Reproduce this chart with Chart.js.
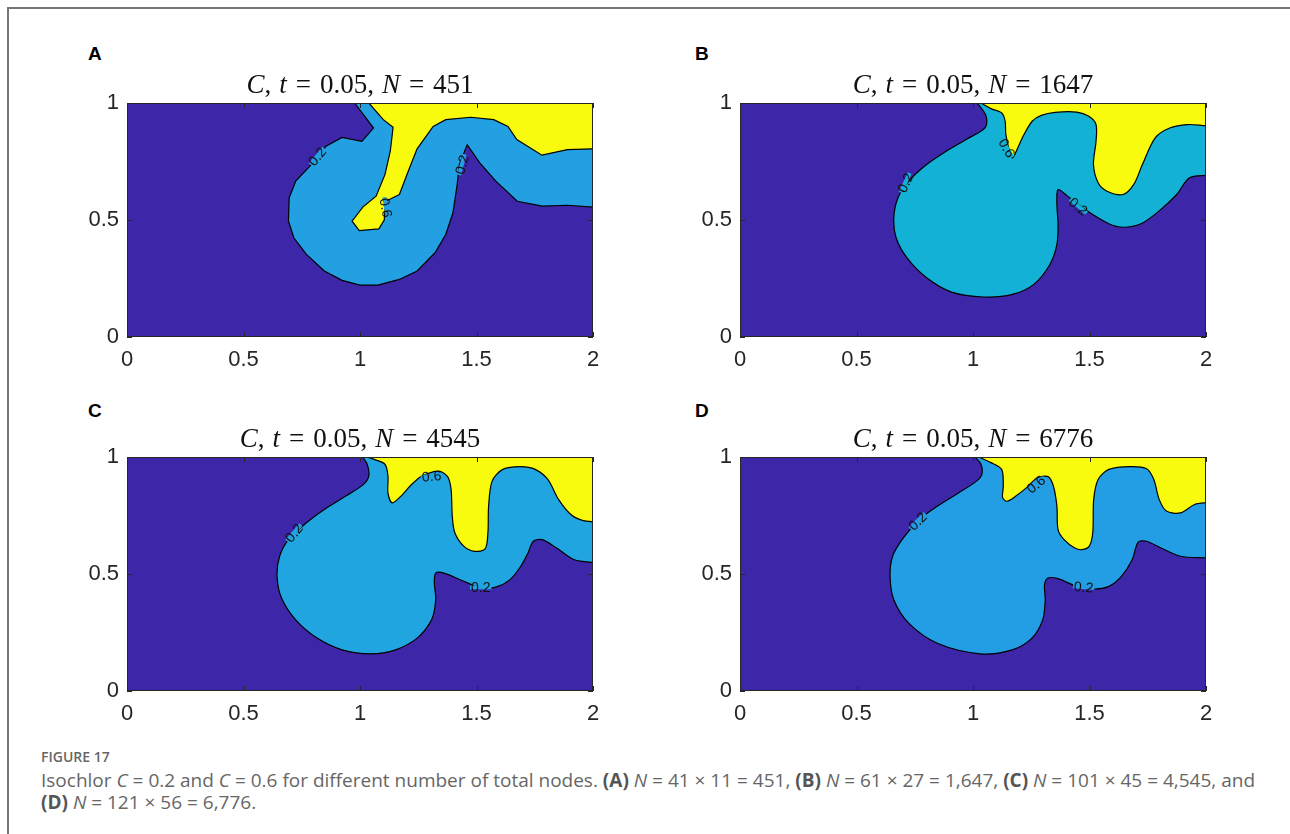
<!DOCTYPE html>
<html>
<head>
<meta charset="utf-8">
<script src="https://cdn.jsdelivr.net/npm/chart.js@4.4.0/dist/chart.umd.min.js"></script>
<style>
body{margin:0;background:#fff;width:1290px;height:834px;position:relative;overflow:hidden}
#frame{position:absolute;left:7px;top:7px;width:1300px;height:840px;border-left:2px solid #777;border-top:2px solid #777}
canvas{position:absolute}
.letter{position:absolute;font:bold 19px "Liberation Sans";line-height:19px;color:#000}
#caphead{position:absolute;left:41px;top:749px;font:600 14px "Open Sans";line-height:16px;color:#666}
#caption{position:absolute;left:41px;top:769px;font:19px "Open Sans";line-height:22px;color:#666;white-space:nowrap}
#caption b{color:#555}
</style>
</head>
<body>
<div id="frame"></div>
<div class="letter" style="left:88px;top:44px">A</div>
<div class="letter" style="left:695px;top:44px">B</div>
<div class="letter" style="left:88px;top:401px">C</div>
<div class="letter" style="left:695px;top:401px">D</div>
<canvas id="cA" width="560" height="345" style="left:60px;top:40px"></canvas>
<canvas id="cB" width="560" height="345" style="left:673px;top:40px"></canvas>
<canvas id="cC" width="560" height="345" style="left:60px;top:394px"></canvas>
<canvas id="cD" width="560" height="345" style="left:673px;top:394px"></canvas>
<div id="caphead">FIGURE 17</div>
<div id="caption">Isochlor <i>C</i> = 0.2 and <i>C</i> = 0.6 for different number of total nodes. <b>(A)</b> <i>N</i> = 41 × 11 = 451, <b>(B)</b> <i>N</i> = 61 × 27 = 1,647, <b>(C)</b> <i>N</i> = 101 × 45 = 4,545, and<br><b>(D)</b> <i>N</i> = 121 × 56 = 6,776.</div>
<script>
// axes
var xTicks = [0, 0.5, 1, 1.5, 2];
var yTicks = [0, 0.5, 1];
var nodes = [451, 1647, 4545, 6776];

// (A) N = 451 : isochlor C = 0.2 and C = 0.6
var a02x = [0.977,1.058,1.008,0.923,0.854,0.785,0.724,0.696,0.693,0.716,0.770,0.847,0.923,1.0,1.077,1.169,1.245,1.322,1.368,1.399,1.417,1.426,1.460,1.514,1.583,1.675,1.782,1.890,2.0];
var a02y = [1,0.893,0.836,0.853,0.815,0.730,0.666,0.595,0.495,0.424,0.353,0.282,0.242,0.222,0.222,0.246,0.282,0.360,0.438,0.531,0.651,0.737,0.822,0.744,0.666,0.580,0.559,0.563,0.555];
var a06x = [1.038,1.100,1.142,1.130,1.107,1.069,1.012,0.966,0.997,1.081,1.104,1.110,1.169,1.207,1.245,1.314,1.368,1.475,1.574,1.635,1.673,1.781,1.890,2.0];
var a06y = [1,0.929,0.896,0.794,0.694,0.602,0.555,0.495,0.455,0.462,0.500,0.580,0.609,0.708,0.804,0.900,0.929,0.939,0.929,0.900,0.844,0.777,0.801,0.804];

// (B) N = 1647
var b02x = [1.018,1.054,1.058,1.043,0.969,0.885,0.801,0.724,0.678,0.660,0.670,0.716,0.801,0.908,1.046,1.169,1.261,1.330,1.360,1.365,1.360,1.365,1.406,1.491,1.583,1.644,1.721,1.798,1.874,1.928,2.0];
var b02y = [1,0.950,0.908,0.886,0.843,0.794,0.737,0.666,0.595,0.509,0.424,0.339,0.253,0.192,0.171,0.182,0.225,0.310,0.395,0.481,0.566,0.630,0.602,0.538,0.484,0.469,0.484,0.538,0.609,0.680,0.691];
var b06x = [1.034,1.077,1.123,1.138,1.141,1.157,1.169,1.192,1.215,1.254,1.293,1.353,1.445,1.497,1.528,1.528,1.517,1.537,1.575,1.644,1.690,1.727,1.782,1.844,1.920,2.0];
var b06y = [1,0.976,0.958,0.922,0.865,0.794,0.765,0.808,0.858,0.922,0.947,0.960,0.961,0.943,0.908,0.836,0.737,0.659,0.623,0.609,0.652,0.737,0.851,0.893,0.908,0.903];

// (C) N = 4545
var c02x = [1.012,1.031,1.038,1.015,0.939,0.847,0.770,0.693,0.655,0.644,0.663,0.724,0.816,0.923,1.046,1.153,1.245,1.307,1.325,1.319,1.325,1.360,1.445,1.521,1.583,1.644,1.690,1.721,1.744,1.782,1.844,1.920,2.0];
var c02y = [1,0.969,0.919,0.883,0.833,0.776,0.719,0.647,0.576,0.490,0.397,0.304,0.226,0.176,0.159,0.176,0.226,0.304,0.390,0.461,0.504,0.504,0.469,0.440,0.444,0.476,0.533,0.590,0.640,0.647,0.611,0.561,0.550];
var c06x = [1.028,1.061,1.107,1.120,1.120,1.138,1.176,1.215,1.261,1.337,1.376,1.391,1.396,1.407,1.445,1.491,1.537,1.549,1.552,1.567,1.613,1.690,1.752,1.806,1.852,1.905,1.951,2.0];
var c06y = [1,0.990,0.969,0.919,0.847,0.804,0.833,0.876,0.916,0.940,0.916,0.861,0.747,0.676,0.619,0.597,0.607,0.676,0.790,0.897,0.947,0.959,0.947,0.904,0.819,0.754,0.730,0.723];

// (D) N = 6776
var d02x = [1.009,1.034,1.038,1.015,0.939,0.847,0.770,0.701,0.655,0.644,0.660,0.724,0.847,1.031,1.169,1.253,1.299,1.310,1.307,1.322,1.368,1.445,1.521,1.583,1.637,1.683,1.709,1.745,1.807,1.890,2.0];
var d02y = [1,0.969,0.926,0.897,0.847,0.790,0.733,0.654,0.576,0.490,0.390,0.290,0.204,0.159,0.176,0.226,0.304,0.390,0.454,0.483,0.479,0.447,0.436,0.447,0.490,0.561,0.636,0.640,0.611,0.576,0.569];
var d06x = [1.025,1.077,1.123,1.130,1.127,1.146,1.184,1.230,1.276,1.322,1.345,1.360,1.365,1.391,1.437,1.468,1.499,1.514,1.518,1.537,1.583,1.675,1.745,1.776,1.799,1.830,1.890,1.951,2.0];
var d06y = [1,0.976,0.947,0.876,0.826,0.811,0.833,0.869,0.911,0.916,0.876,0.790,0.690,0.647,0.611,0.604,0.619,0.676,0.819,0.904,0.947,0.959,0.950,0.904,0.819,0.769,0.761,0.797,0.804];

// contour label anchors (data units) and text
var aLabX = [0.816, 1.437, 1.112], aLabY = [0.772, 0.737, 0.552], aLabT = ['0.2', '0.2', '0.6'];
var bLabX = [0.709, 1.146, 1.452], bLabY = [0.659, 0.808, 0.559], bLabT = ['0.2', '0.6', '0.2'];
var cLabX = [0.716, 1.307, 1.518], cLabY = [0.676, 0.919, 0.443], cLabT = ['0.2', '0.6', '0.2'];
var dLabX = [0.762, 1.270, 1.475], dLabY = [0.726, 0.883, 0.444], dLabT = ['0.2', '0.6', '0.2'];
var aLabRot = [-50, -75, 80], bLabRot = [-65, 60, 40], cLabRot = [-50, -5, 0], dLabRot = [-45, -40, 5];

var PURPLE = '#3e26a8';
var YELLOW = '#f9fb0e';

function pts(xs, ys) {
	return xs.map(function (x, i) { return {x: x, y: ys[i]}; });
}

// close a contour that runs from the top edge to the right edge, going round the
// top-right corner just outside the axes (the part outside is clipped away)
function region(xs, ys) {
	var p = pts(xs, ys);
	var xm = xTicks[xTicks.length - 1] + 0.05, ym = yTicks[yTicks.length - 1] + 0.05;
	var first = p[0], last = p[p.length - 1];
	return p.concat([{x: xm, y: last.y}, {x: xm, y: ym}, {x: first.x, y: ym}]);
}

var bgPlugin = {
	id: 'bg',
	beforeDatasetsDraw: function (chart) {
		var sx = chart.scales.x, sy = chart.scales.y;
		var x0 = sx.getPixelForValue(xTicks[0]), x1 = sx.getPixelForValue(xTicks[xTicks.length - 1]);
		var y0 = sy.getPixelForValue(yTicks[0]), y1 = sy.getPixelForValue(yTicks[yTicks.length - 1]);
		chart.ctx.save();
		chart.ctx.fillStyle = PURPLE;
		chart.ctx.fillRect(x0, y1, x1 - x0, y0 - y1);
		chart.ctx.restore();
	}
};

var boxPlugin = {
	id: 'box',
	afterDraw: function (chart) {
		var ctx = chart.ctx, a = chart.chartArea;
		var sx = chart.scales.x, sy = chart.scales.y;
		ctx.save();
		ctx.strokeStyle = '#262626';
		ctx.lineWidth = 1;
		ctx.strokeRect(a.left + 0.5, a.top + 0.5, a.right - a.left - 1, a.bottom - a.top - 1);
		ctx.beginPath();
		xTicks.forEach(function (v) {
			var p = Math.round(sx.getPixelForValue(v)) + 0.5;
			ctx.moveTo(p, a.bottom); ctx.lineTo(p, a.bottom - 5);
			ctx.moveTo(p, a.top); ctx.lineTo(p, a.top + 5);
		});
		yTicks.forEach(function (v) {
			var p = Math.round(sy.getPixelForValue(v)) + 0.5;
			ctx.moveTo(a.left, p); ctx.lineTo(a.left + 5, p);
			ctx.moveTo(a.right, p); ctx.lineTo(a.right - 5, p);
		});
		ctx.stroke();
		ctx.restore();
	}
};

// title drawn as LaTeX-like text: italic symbols, upright numbers, numbers in parts are gaps
var mathTitle = {
	id: 'mathTitle',
	afterDraw: function (chart, args, opts) {
		var ctx = chart.ctx, a = chart.chartArea;
		var parts = [['C', 1], [',', 0], 8, ['t', 1], 9, ['=', 0], 9, ['0.05,', 0], 8, ['N', 1], 9, ['=', 0], 9, [String(opts.n), 0]];
		var fi = 'italic 27px "Liberation Serif"', fr = '27px "Liberation Serif"';
		ctx.save();
		ctx.fillStyle = '#111';
		ctx.textBaseline = 'alphabetic';
		ctx.textAlign = 'left';
		var total = 0;
		var ws = parts.map(function (p) {
			if (typeof p === 'number') { total += p; return p; }
			ctx.font = p[1] ? fi : fr;
			var w = ctx.measureText(p[0]).width;
			total += w;
			return w;
		});
		var x = (a.left + a.right) / 2 - total / 2;
		parts.forEach(function (p, i) {
			if (typeof p !== 'number') {
				ctx.font = p[1] ? fi : fr;
				ctx.fillText(p[0], x, a.top - 10);
			}
			x += ws[i];
		});
		ctx.restore();
	}
};

var labelPlugin = {
	id: 'clabels',
	afterDatasetsDraw: function (chart, args, opts) {
		var ctx = chart.ctx;
		var sx = chart.scales.x, sy = chart.scales.y;
		ctx.save();
		ctx.font = '14px "Liberation Sans"';
		ctx.textAlign = 'center';
		ctx.textBaseline = 'middle';
		opts.x.forEach(function (v, i) {
			var px = sx.getPixelForValue(v), py = sy.getPixelForValue(opts.y[i]);
			ctx.save();
			ctx.translate(px, py);
			ctx.rotate(opts.rot[i] * Math.PI / 180);
			var w = ctx.measureText(opts.t[i]).width;
			ctx.fillStyle = opts.bg;
			ctx.fillRect(-w / 2 - 1, -2, w + 2, 4);
			ctx.fillStyle = '#111';
			ctx.fillText(opts.t[i], 0, 1);
			ctx.restore();
		});
		ctx.restore();
	}
};

function makePanel(id, n, x02, y02, x06, y06, blue, smooth, lx, ly, lt, lr) {
	var tickFont = {family: 'Liberation Sans', size: 22};
	var fmt = function (v) { return String(v); };
	new Chart(document.getElementById(id), {
		type: 'scatter',
		data: {
			datasets: [
				{label: 'C = 0.2', data: region(x02, y02), showLine: true, fill: 'shape', backgroundColor: blue, borderColor: '#000', borderWidth: 1.2, pointRadius: 0, tension: smooth, clip: 0, order: 2},
				{label: 'C = 0.6', data: region(x06, y06), showLine: true, fill: 'shape', backgroundColor: YELLOW, borderColor: '#000', borderWidth: 1.2, pointRadius: 0, tension: smooth, clip: 0, order: 1}
			]
		},
		options: {
			responsive: false,
			animation: false,
			events: [],
			layout: {padding: {top: 63, right: 27, left: 0, bottom: 15}},
			plugins: {
				legend: {display: false},
				tooltip: {enabled: false},
				mathTitle: {n: n},
				clabels: {x: lx, y: ly, t: lt, rot: lr, bg: blue}
			},
			scales: {
				x: {
					type: 'linear', min: xTicks[0], max: xTicks[xTicks.length - 1],
					afterBuildTicks: function (s) { s.ticks = xTicks.map(function (v) { return {value: v}; }); },
					afterFit: function (s) { s.height = 33; },
					grid: {display: false, drawTicks: false}, border: {display: false},
					ticks: {padding: 10, color: '#262626', font: tickFont, maxRotation: 0, autoSkip: false, callback: fmt}
				},
				y: {
					type: 'linear', min: yTicks[0], max: yTicks[yTicks.length - 1],
					afterBuildTicks: function (s) { s.ticks = yTicks.map(function (v) { return {value: v}; }); },
					afterFit: function (s) { s.width = 67; },
					grid: {display: false, drawTicks: false}, border: {display: false},
					ticks: {padding: 8, color: '#262626', font: tickFont, autoSkip: false, callback: fmt}
				}
			}
		},
		plugins: [bgPlugin, boxPlugin, mathTitle, labelPlugin]
	});
}

makePanel('cA', nodes[0], a02x, a02y, a06x, a06y, '#22a0e2', 0, aLabX, aLabY, aLabT, aLabRot);
makePanel('cB', nodes[1], b02x, b02y, b06x, b06y, '#12b1d5', 0.3, bLabX, bLabY, bLabT, bLabRot);
makePanel('cC', nodes[2], c02x, c02y, c06x, c06y, '#20a5e1', 0.3, cLabX, cLabY, cLabT, cLabRot);
makePanel('cD', nodes[3], d02x, d02y, d06x, d06y, '#239de3', 0.3, dLabX, dLabY, dLabT, dLabRot);
</script>
</body>
</html>
